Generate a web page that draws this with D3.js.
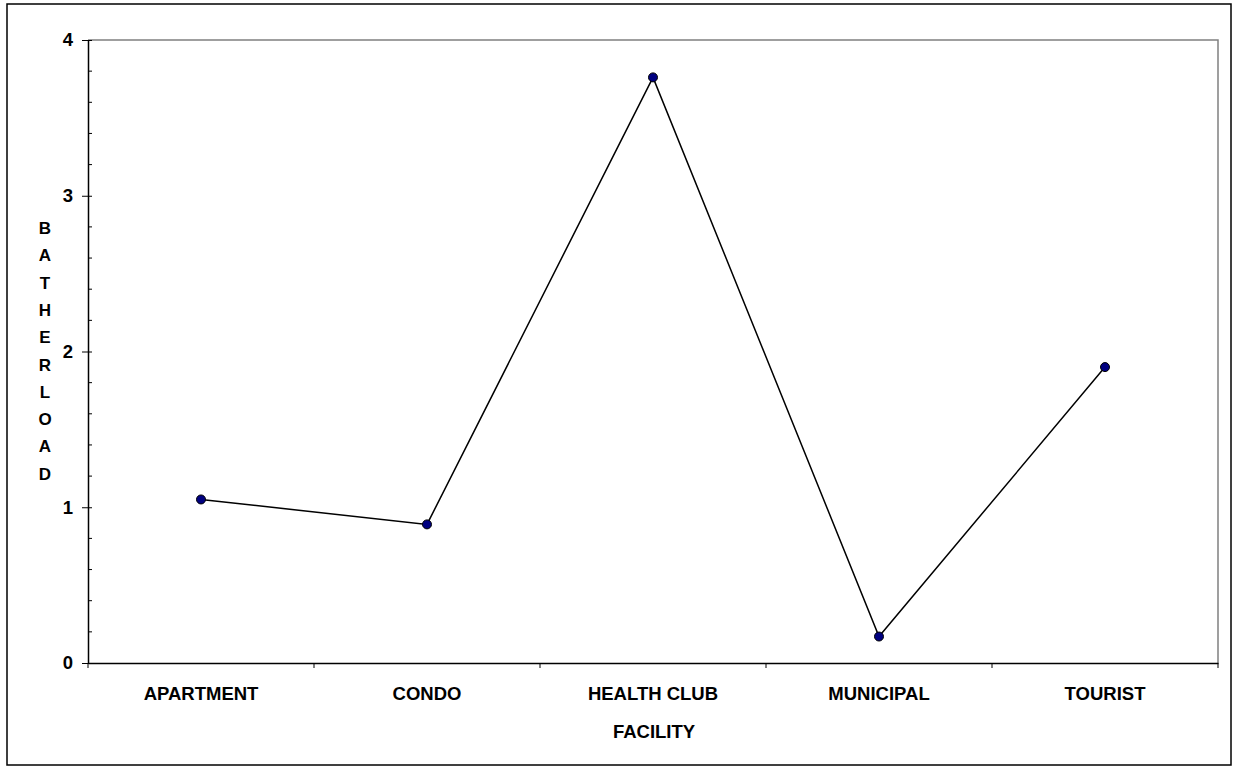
<!DOCTYPE html>
<html><head><meta charset="utf-8">
<script src="https://cdn.jsdelivr.net/npm/d3@7"></script>
<style>body{margin:0;background:#fff}svg{display:block}text{font-family:Arial,"Liberation Sans",sans-serif;font-weight:bold;fill:#000}</style>
</head><body>
<script>
const categories = ["APARTMENT","CONDO","HEALTH CLUB","MUNICIPAL","TOURIST"];
const values = [1.05, 0.89, 3.76, 0.17, 1.90];
const yTicks = [0,1,2,3,4];
const yTitle = "BATHERLOAD";
const xTitle = "FACILITY";

const W=1235,H=767;
const m={l:88,t:40,r:1218,b:663};
const FF="Arial,'Liberation Sans',sans-serif";
const svg=d3.select("body").append("svg").attr("width",W).attr("height",H);
svg.append("rect").attr("x",7).attr("y",4).attr("width",1224).attr("height",761).attr("fill","none").attr("stroke","#000").attr("stroke-width",1.5);

const x=d3.scaleBand().domain(categories).range([m.l,m.r]);
const y=d3.scaleLinear().domain([0,4]).range([m.b,m.t]);

// plot border (top/right gray)
svg.append("path").attr("d",`M${m.l},${m.t}H${m.r}V${m.b}`).attr("fill","none").attr("stroke","#808080").attr("stroke-width",1.5);

// y axis minor ticks
const minor=d3.range(0,4.001,0.2).filter(v=>Math.abs(v-Math.round(v))>1e-6);
svg.append("g").selectAll("line").data(minor).join("line")
 .attr("x1",m.l).attr("x2",m.l+4).attr("y1",d=>y(d)).attr("y2",d=>y(d)).attr("stroke","#000");
const ya=svg.append("g").attr("transform",`translate(${m.l},0)`)
 .call(d3.axisLeft(y).tickValues(yTicks).tickFormat(d3.format("d")).tickSize(6).tickSizeOuter(0));
ya.select(".domain").attr("stroke","#000").attr("stroke-width",1.5);
ya.selectAll(".tick line").clone().attr("x2",4);
ya.selectAll(".tick text").attr("x",-15).style("font-size","18.5px").style("font-family",FF).style("font-weight","bold");

// x axis
const xa=svg.append("g").attr("transform",`translate(0,${m.b})`)
 .call(d3.axisBottom(x).tickSize(0).tickSizeOuter(0));
xa.select(".domain").attr("stroke","#000").attr("stroke-width",1.5);
xa.selectAll(".tick text").attr("y",37).attr("dy",0).style("font-size","18.5px").style("font-family",FF).style("font-weight","bold");
const bounds=categories.map(c=>x(c)).concat([m.r]);
svg.append("g").selectAll("line").data(bounds).join("line")
 .attr("x1",d=>d).attr("x2",d=>d).attr("y1",m.b).attr("y2",m.b+5).attr("stroke","#000");

// line
const cx=d=>x(d)+x.bandwidth()/2;
svg.append("path").datum(values)
 .attr("d",d3.line().x((d,i)=>cx(categories[i])).y(d=>y(d)))
 .attr("fill","none").attr("stroke","#000").attr("stroke-width",1.5);
svg.append("g").selectAll("circle").data(values).join("circle")
 .attr("cx",(d,i)=>cx(categories[i])).attr("cy",d=>y(d)).attr("r",4.5)
 .attr("fill","#000080").attr("stroke","#000").attr("stroke-width",1);

// titles
svg.append("text").attr("x",654).attr("y",738).attr("text-anchor","middle").style("font-size","18.5px").text(xTitle);
svg.append("g").selectAll("text").data(yTitle.split("")).join("text")
 .attr("x",45).attr("y",(d,i)=>234+i*27.3).attr("text-anchor","middle").style("font-size","17px").text(d=>d);
</script>
</body></html>
